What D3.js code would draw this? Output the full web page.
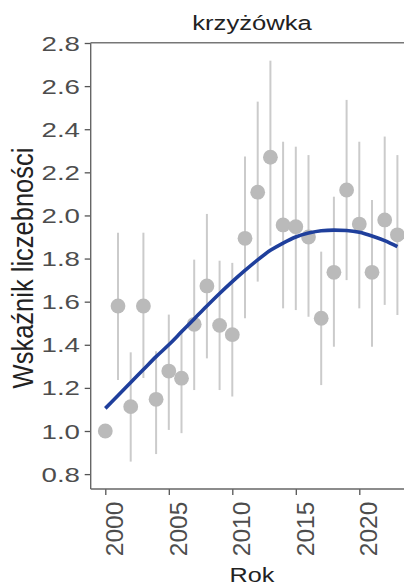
<!DOCTYPE html>
<html><head><meta charset="utf-8">
<script src="https://cdn.jsdelivr.net/npm/d3@7"></script>
<style>body{margin:0;background:#fff}svg{display:block}text{font-family:"Liberation Sans",Arial,sans-serif}</style>
</head><body>
<svg id="c" width="404" height="587"></svg>
<script>
const title = "krzyżówka";
const years = [2000,2001,2002,2003,2004,2005,2006,2007,2008,2009,2010,2011,2012,2013,2014,2015,2016,2017,2018,2019,2020,2021,2022,2023];
const index = [1.00,1.58,1.113,1.58,1.147,1.278,1.245,1.495,1.673,1.49,1.447,1.894,2.108,2.27,1.956,1.948,1.90,1.523,1.736,2.118,1.96,1.736,1.979,1.91];
const lower = [null,1.237,0.858,1.246,0.893,1.005,0.99,1.19,1.337,1.19,1.16,1.523,1.693,1.86,1.569,1.561,1.53,1.213,1.391,1.70,1.569,1.391,1.585,1.538];
const upper = [null,1.92,1.365,1.92,1.37,1.54,1.47,1.795,2.007,1.79,1.78,2.273,2.528,2.718,2.342,2.319,2.28,1.832,2.087,2.536,2.342,2.072,2.366,2.28];
const trend = [1.105,1.165,1.225,1.285,1.345,1.40,1.46,1.52,1.58,1.638,1.693,1.745,1.794,1.838,1.872,1.90,1.918,1.929,1.932,1.93,1.922,1.905,1.883,1.855];
const yTicks = [0.8,1.0,1.2,1.4,1.6,1.8,2.0,2.2,2.4,2.6,2.8];
const xTicks = [2000,2005,2010,2015,2020];
const xTitle = "Rok", yTitle = "Wskaźnik liczebności";

const svg = d3.select("#c");
const L = 90.7, T = 42.7, B = 489;
const x = d3.scaleLinear().domain([2000,2020]).range([105.3,359.3]);
const y = d3.scaleLinear().domain([1.0,2.8]).range([431,43]);
const R = 412;

// error bars
svg.append("g").selectAll("line").data(years.map((yr,i)=>({yr,lo:lower[i],hi:upper[i]})).filter(d=>d.lo!=null))
  .join("line").attr("x1",d=>x(d.yr)).attr("x2",d=>x(d.yr))
  .attr("y1",d=>y(d.lo)).attr("y2",d=>y(d.hi))
  .attr("stroke","#cbcbcb").attr("stroke-width",2);
// points
svg.append("g").selectAll("circle").data(years.map((yr,i)=>({yr,v:index[i]})))
  .join("circle").attr("cx",d=>x(d.yr)).attr("cy",d=>y(d.v)).attr("r",7.4)
  .attr("fill","#bababa");
// trend
svg.append("path").datum(years.map((yr,i)=>[yr,trend[i]]))
  .attr("d",d3.line().x(d=>x(d[0])).y(d=>y(d[1])).curve(d3.curveMonotoneX))
  .attr("fill","none").attr("stroke","#1f3f9c").attr("stroke-width",3.6);

// axes
const gy = svg.append("g").attr("transform",`translate(${L},0)`)
  .call(d3.axisLeft(y).tickValues(yTicks).tickFormat(d3.format(".1f")).tickSize(6).tickPadding(3));
gy.select(".domain").remove();
gy.selectAll(".tick line").attr("stroke","#555").attr("stroke-width",1.3);
gy.selectAll(".tick text").attr("fill","#4d4d4d").style("font-size","19.5px")
  .attr("x",-10.7/1.42).attr("dy","0.36em").attr("transform","scale(1.42,1)");
const gx = svg.append("g").attr("transform",`translate(0,${B})`)
  .call(d3.axisBottom(x).tickValues(xTicks).tickFormat(d3.format("d")).tickSize(6));
gx.select(".domain").remove();
gx.selectAll(".tick line").attr("stroke","#555").attr("stroke-width",1.3);
gx.selectAll(".tick text").attr("fill","#4d4d4d").style("font-size","24.5px")
  .attr("transform","rotate(-90)").attr("text-anchor","end").attr("x",-12.7).attr("y",17.5).attr("dy",0);
svg.append("line").attr("x1",L).attr("x2",L).attr("y1",T).attr("y2",B).attr("stroke","#666").attr("stroke-width",1.4);
svg.append("line").attr("x1",L).attr("x2",R).attr("y1",B).attr("y2",B).attr("stroke","#666").attr("stroke-width",1.4);
svg.append("line").attr("x1",L).attr("x2",R).attr("y1",T).attr("y2",T).attr("stroke","#777").attr("stroke-width",1.4);

// titles
svg.append("g").attr("transform","translate(252,30) scale(1.25,1)")
  .append("text").attr("text-anchor","middle").attr("fill","#222").style("font-size","20.5px").text(title);
svg.append("g").attr("transform","translate(252,582) scale(1.2,1)")
  .append("text").attr("text-anchor","middle").attr("fill","#222").style("font-size","21px").text(xTitle);
svg.append("g").attr("transform",`translate(33,268) rotate(-90) scale(1,1.19)`)
  .append("text").attr("text-anchor","middle").attr("fill","#222").style("font-size","25.5px").text(yTitle);
</script>
</body></html>
